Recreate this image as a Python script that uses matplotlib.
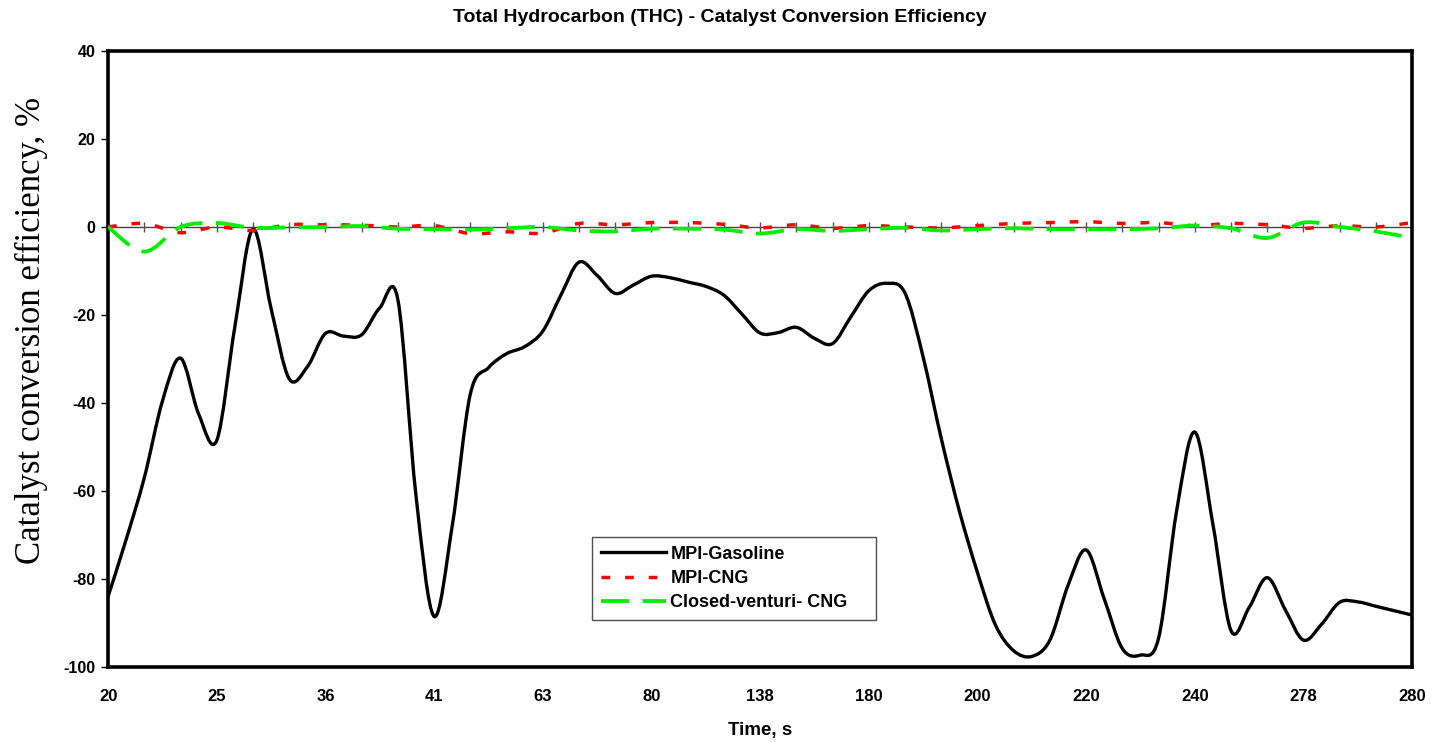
import numpy as np
import matplotlib.pyplot as plt
from matplotlib.path import Path
from matplotlib.patches import PathPatch
from matplotlib.lines import Line2D

# time labels shown on every third sample
time_labels = ['20', '25', '36', '41', '63', '80', '138', '180', '200',
               '220', '240', '278', '280']
n_samples = 37

# MPI-Gasoline efficiency, read every half sample (0, 0.5, ... 36)
gasoline = [-84.0, -71.0, -57.0, -39.6, -29.8, -42.5, -48.5, -22.7, -0.5,
            -18.5, -34.5, -31.8, -24.2, -24.8, -24.5, -18.4, -16.5, -61.0,
            -88.5, -68.0, -38.0, -32.0, -28.8, -27.2, -23.7, -15.5, -8.0,
            -11.0, -15.1, -13.2, -11.2, -11.5, -12.5, -13.5, -15.5, -19.8,
            -24.1, -24.0, -22.8, -25.3, -26.5, -20.5, -14.5, -12.8, -15.0,
            -29.5, -48.0, -64.5, -78.5, -90.5, -96.3, -97.6, -93.9, -81.5,
            -73.4, -84.5, -95.8, -97.3, -93.5, -64.5, -46.6, -67.5, -91.7,
            -86.5, -79.7, -87.0, -93.9, -90.3, -85.3, -85.2, -86.2, -87.2,
            -88.2]

# MPI-CNG efficiency, one value per sample
mpi_cng = [0.0, 0.8, -1.3, 0.0, -0.8, 0.5, 0.5, 0.4, 0.0, 0.3, -1.5, -1.1,
           -1.4, 0.8, 0.5, 1.0, 1.0, 0.6, -0.2, 0.5, -0.3, 0.3, 0.0, -0.2,
           0.3, 0.8, 1.0, 1.2, 0.8, 1.0, 0.3, 0.8, 0.5, -0.3, 0.3, 0.0, 1.0]

# Closed-venturi CNG efficiency, one value per sample
venturi_cng = [0.0, -5.6, 0.0, 0.9, -0.2, -0.1, 0.0, 0.2, -0.4, -0.5, -0.6,
               -0.3, 0.0, -0.8, -1.0, -0.4, -0.4, -0.6, -1.5, -0.5, -0.9,
               -0.5, -0.2, -0.8, -0.5, -0.3, -0.5, -0.5, -0.5, -0.3, 0.3,
               -0.3, -2.5, 1.0, 0.0, -1.0, -2.5]


def smooth_path(x, y):
    # Catmull-Rom style bezier through every point (like a smoothed line)
    pts = np.column_stack([x, y])
    n = len(pts)
    verts = [pts[0]]
    codes = [Path.MOVETO]
    for i in range(n - 1):
        p0 = pts[max(i - 1, 0)]
        p1 = pts[i]
        p2 = pts[i + 1]
        p3 = pts[min(i + 2, n - 1)]
        verts += [p1 + (p2 - p0) / 6, p2 - (p3 - p1) / 6, p2]
        codes += [Path.CURVE4] * 3
    return Path(verts, codes)


plt.rcParams['font.family'] = ['Liberation Sans', 'DejaVu Sans']
plt.rcParams['axes.unicode_minus'] = False

fig = plt.figure(figsize=(14.39, 7.42), dpi=100)
ax = fig.add_axes([0.0751, 0.1011, 0.9062, 0.8302])

x_gas = np.arange(len(gasoline)) * 0.5
x_cng = np.arange(n_samples)

# zero line with a tick at every sample
ax.axhline(0, color='#444444', lw=1.0, zorder=1)
ax.plot(x_cng, np.zeros(n_samples), ls='none', marker='|', ms=7.5,
        mew=1.0, color='#555555', zorder=1)

styles = [
    (x_gas, gasoline, dict(color='black', lw=2.4, ls='-')),
    (x_cng, mpi_cng, dict(color='#ff0000', lw=2.5, ls=(0, (2.5, 4.3)))),
    (x_cng, venturi_cng, dict(color='#00ee00', lw=2.7, ls=(0, (7.5, 3.6)))),
]
for xs, ys, st in styles:
    patch = PathPatch(smooth_path(xs, ys), fill=False, capstyle='butt',
                      zorder=3, **st)
    ax.add_patch(patch)

ax.set_xlim(0, n_samples - 1)
ax.set_ylim(-100, 40)
ax.set_xticks(np.arange(0, n_samples, 3))
ax.set_xticklabels(time_labels)
ax.set_yticks(np.arange(-100, 41, 20))
ax.tick_params(axis='x', length=0, pad=16, labelsize=12)
ax.tick_params(axis='y', length=5, width=1, direction='out', pad=4,
               labelsize=11.5)
for lab in ax.get_xticklabels() + ax.get_yticklabels():
    lab.set_fontweight('bold')
for sp in ax.spines.values():
    sp.set_linewidth(2.6)
    sp.set_color('black')

ax.set_xlabel('Time, s', fontsize=13.5, fontweight='bold', labelpad=13)
ax.set_ylabel('Catalyst conversion efficiency, %', fontsize=25,
              family='Liberation Serif')
ax.yaxis.set_label_coords(-0.046, 0.547)
fig.suptitle('Total Hydrocarbon (THC) - Catalyst Conversion Efficiency',
             fontsize=14, fontweight='bold', y=0.988)

handles = [Line2D([], [], **st) for _, _, st in styles]
leg = ax.legend(handles, ['MPI-Gasoline', 'MPI-CNG', 'Closed-venturi- CNG'],
                loc='lower left', bbox_to_anchor=(0.371, 0.076, 0.2178, 0.139),
                mode='expand', borderaxespad=0, fancybox=False, frameon=True,
                borderpad=0.5, handlelength=3.6, handletextpad=0.25,
                labelspacing=0.4, prop={'weight': 'bold', 'size': 13})
leg.get_frame().set_edgecolor('#222222')
leg.get_frame().set_linewidth(1.0)

fig.savefig('out.png', dpi=100)
